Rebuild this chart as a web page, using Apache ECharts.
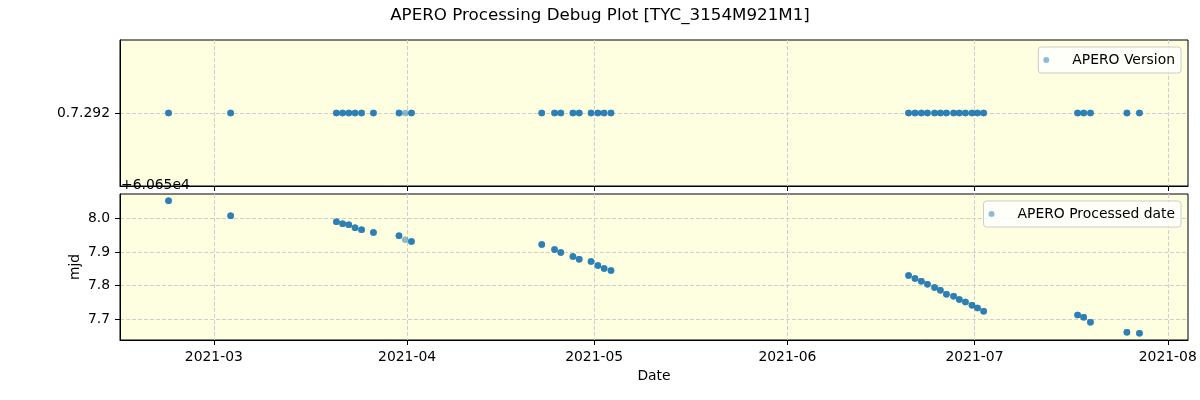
<!DOCTYPE html>
<html><head><meta charset="utf-8">
<script src="https://cdn.jsdelivr.net/npm/echarts@6/dist/echarts.min.js"></script>
<style>html,body{margin:0;padding:0;background:#fff}#c{width:1200px;height:400px}</style>
</head><body><div id="c"></div>
<script>
// ---- data ----
const obsDates = [
  '2021-02-21T17:45', '2021-03-03T16:48', '2021-03-20T15:50', '2021-03-21T15:50', '2021-03-22T15:36',
  '2021-03-23T15:36', '2021-03-24T16:48', '2021-03-26T14:24', '2021-03-30T16:48', '2021-03-31T16:48',
  '2021-04-01T16:48', '2021-04-22T14:24', '2021-04-24T15:36', '2021-04-25T15:36', '2021-04-27T14:24',
  '2021-04-28T14:24', '2021-04-30T12:00', '2021-05-01T14:24', '2021-05-02T14:24', '2021-05-03T16:48',
  '2021-06-20T10:19', '2021-06-21T11:02', '2021-06-22T11:31', '2021-06-23T11:02', '2021-06-24T14:24',
  '2021-06-25T12:43', '2021-06-26T12:00', '2021-06-27T15:36', '2021-06-28T13:40', '2021-06-29T13:12',
  '2021-06-30T14:24', '2021-07-01T11:45', '2021-07-02T11:17', '2021-07-17T12:58', '2021-07-18T12:29',
  '2021-07-19T14:24', '2021-07-25T10:48', '2021-07-27T11:02'
];
// exposures per night (overlapping semi-transparent markers)
const nExposures = [
  4, 4, 4, 4, 4, 4, 4, 4, 4, 1,
  4, 4, 4, 4, 4, 4, 4, 4, 4, 4,
  4, 4, 4, 4, 4, 4, 4, 4, 4, 4,
  4, 4, 4, 4, 4, 4, 4, 4
];
const versions = obsDates.map(() => '0.7.292');
const versionCategories = ['0.7.292'];
const processedMjd = [
  60658.054, 60658.009, 60657.991, 60657.985, 60657.982, 60657.973, 60657.967, 60657.959, 60657.949, 60657.937,
  60657.932, 60657.923, 60657.908, 60657.899, 60657.887, 60657.879, 60657.872, 60657.860, 60657.851, 60657.845,
  60657.830, 60657.821, 60657.813, 60657.804, 60657.794, 60657.786, 60657.774, 60657.768, 60657.758, 60657.751,
  60657.741, 60657.733, 60657.723, 60657.712, 60657.705, 60657.690, 60657.660, 60657.657
];
const xTickDates = ['2021-03-01', '2021-04-01', '2021-05-01', '2021-06-01', '2021-07-01', '2021-08-01'];
const xTickLabels = ['2021-03', '2021-04', '2021-05', '2021-06', '2021-07', '2021-08'];
const mjdOffset = 60650;
const offsetLabel = '+6.065e4';
const yTickLabels = ['7.7', '7.8', '7.9', '8.0'];

// ---- build ----
const FONT = 'DejaVu Sans';
const tms = obsDates.map(d => Date.parse(d + ':00Z'));
const xTicks = xTickDates.map(d => Date.parse(d + 'T00:00:00Z'));
const yTicks = yTickLabels.map(s => mjdOffset + parseFloat(s));
const tMin = Math.min(...tms), tMax = Math.max(...tms);
const xMin = tMin - 0.05 * (tMax - tMin), xMax = tMax + 0.05 * (tMax - tMin);
const pMin = Math.min(...processedMjd), pMax = Math.max(...processedMjd);
const yMin = pMin - 0.05 * (pMax - pMin), yMax = pMax + 0.05 * (pMax - pMin);

const verData = [], procData = [];
tms.forEach((t, i) => {
  for (let k = 0; k < nExposures[i]; k++) {
    verData.push([t, versionCategories.indexOf(versions[i])]);
    procData.push([t, processedMjd[i]]);
  }
});

const gridStyle = { show: true, backgroundColor: '#fefee0', borderColor: '#000', borderWidth: 1 };
const splitLine = { show: true, lineStyle: { color: '#cfcfcf', width: 1, type: [4, 2] } };
const axisLine = { show: true, onZero: false, lineStyle: { color: '#000', width: 1 } };
const tick = { show: true, length: 5, lineStyle: { color: '#000', width: 1 } };
const labelStyle = { fontFamily: FONT, fontSize: 13.9, color: '#000' };

function nearestIdx(arr, v) {
  let best = -1, bd = Infinity;
  arr.forEach((a, i) => { const d = Math.abs(a - v); if (d < bd) { bd = d; best = i; } });
  return bd < 1e-6 * Math.max(1, Math.abs(v)) ? best : -1;
}

function xAxis(gi, showLabels) {
  return {
    type: 'value', gridIndex: gi, min: xMin, max: xMax, scale: true,
    axisLine, splitLine,
    axisTick: Object.assign({ customValues: xTicks }, tick),
    axisLabel: Object.assign({
      show: showLabels, customValues: xTicks, margin: 10,
      formatter: v => { const i = nearestIdx(xTicks, v); return i >= 0 ? xTickLabels[i] : ''; }
    }, labelStyle),
    name: showLabels ? 'Date' : '', nameLocation: 'middle', nameGap: 29,
    nameTextStyle: labelStyle
  };
}

function legend(name, top) {
  return {
    data: [{ name, icon: 'circle' }], right: 19, top, orient: 'vertical',
    itemWidth: 28, itemHeight: 6, padding: [5, 6, 5, 5],
    backgroundColor: 'rgba(255,255,255,0.8)', borderColor: '#cccccc', borderWidth: 1, borderRadius: 3,
    textStyle: Object.assign({ lineHeight: 16, padding: [0, 0, 0, 7] }, labelStyle)
  };
}

const chart = echarts.init(document.getElementById('c'), null, { renderer: 'canvas' });
chart.setOption({
  animation: false,
  textStyle: { fontFamily: FONT },
  title: {
    text: 'APERO Processing Debug Plot [TYC_3154M921M1]', left: 'center', top: 6, padding: 0,
    textStyle: { fontFamily: FONT, fontSize: 16.7, fontWeight: 'normal', color: '#000', lineHeight: 20 }
  },
  grid: [
    Object.assign({ left: 120, top: 40, width: 1068, height: 146 }, gridStyle),
    Object.assign({ left: 120, top: 194, width: 1068, height: 146 }, gridStyle)
  ],
  xAxis: [xAxis(0, false), xAxis(1, true)],
  yAxis: [
    {
      type: 'value', gridIndex: 0, min: -1, max: 1, axisLine, splitLine,
      axisTick: Object.assign({ customValues: [0] }, tick),
      axisLabel: Object.assign({ customValues: [0], margin: 10, formatter: v => versionCategories[Math.round(v)] || '' }, labelStyle)
    },
    {
      type: 'value', gridIndex: 1, min: yMin, max: yMax, axisLine, splitLine,
      axisTick: Object.assign({ customValues: yTicks }, tick),
      axisLabel: Object.assign({ customValues: yTicks, margin: 10, formatter: v => (v - mjdOffset).toFixed(1) }, labelStyle)
    }
  ],
  legend: [legend('APERO Version', 47), legend('APERO Processed date', 201)],
  graphic: [
    { type: 'text', left: 121, top: 178, z: 100,
      style: { text: offsetLabel, font: '13.9px "DejaVu Sans"', fill: '#000' } },
    { type: 'text', x: 75, y: 267, rotation: Math.PI / 2, z: 100,
      style: { text: 'mjd', font: '13.9px "DejaVu Sans"', fill: '#000', align: 'center', verticalAlign: 'middle' } }
  ],
  series: [
    { name: 'APERO Version', type: 'scatter', xAxisIndex: 0, yAxisIndex: 0, data: verData,
      symbolSize: 6.5, itemStyle: { color: '#1f77b4', opacity: 0.5 } },
    { name: 'APERO Processed date', type: 'scatter', xAxisIndex: 1, yAxisIndex: 1, data: procData,
      symbolSize: 6.5, itemStyle: { color: '#1f77b4', opacity: 0.5 } }
  ]
});
</script></body></html>
